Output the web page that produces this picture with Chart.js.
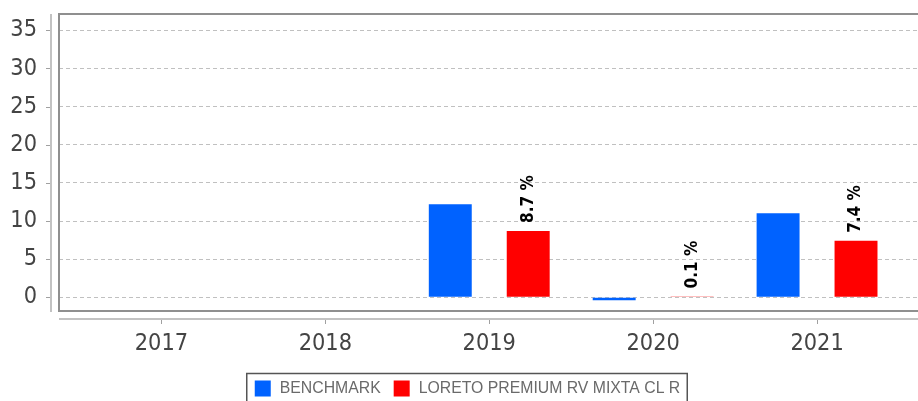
<!DOCTYPE html>
<html>
<head>
<meta charset="utf-8">
<script src="https://cdn.jsdelivr.net/npm/chart.js@4"></script>
<style>
  html, body { margin: 0; padding: 0; overflow: hidden; background: #fff; }
</style>
</head>
<body>
<canvas id="chart" width="935" height="401"></canvas>
<script>
// -- THE DATA --
const years = ['2017', '2018', '2019', '2020', '2021'];
const benchmark = [null, null, 12.2, -0.4, 11.0];
const fund = [null, null, 8.7, 0.1, 7.4];
const seriesNames = ['BENCHMARK', 'LORETO PREMIUM RV MIXTA CL R'];
const seriesColors = ['#0062ff', '#ff0000'];

const tickFont = "'DejaVu Sans Condensed', 'DejaVu Sans', sans-serif";

// frame, offset axis lines and tick marks (java-chart look)
const axesPlugin = {
  id: 'axes',
  afterDraw(chart) {
    const ctx = chart.ctx, a = chart.chartArea;
    const x = chart.scales.x, y = chart.scales.y;
    ctx.save();
    // plot frame
    ctx.strokeStyle = '#8f8f8f';
    ctx.lineWidth = 2;
    ctx.strokeRect(a.left, a.top, a.right - a.left, a.bottom - a.top);
    // y axis line
    ctx.strokeStyle = '#c2c2c2';
    ctx.beginPath();
    ctx.moveTo(51, a.top);
    ctx.lineTo(51, a.bottom + 1);
    ctx.stroke();
    // x axis line
    ctx.beginPath();
    ctx.moveTo(a.left, a.bottom + 8);
    ctx.lineTo(a.right, a.bottom + 8);
    ctx.stroke();
    // tick marks
    ctx.strokeStyle = '#a0a0a0';
    ctx.lineWidth = 1;
    ctx.beginPath();
    y.ticks.forEach(t => {
      const py = Math.round(y.getPixelForValue(t.value)) + 0.5;
      ctx.moveTo(46, py);
      ctx.lineTo(50, py);
    });
    x.ticks.forEach(t => {
      const px = Math.round(x.getPixelForValue(t.value)) + 0.5;
      ctx.moveTo(px, a.bottom + 9);
      ctx.lineTo(px, a.bottom + 13);
    });
    ctx.stroke();
    ctx.restore();
  }
};

// rotated value labels above the fund bars
const labelPlugin = {
  id: 'valueLabels',
  afterDatasetsDraw(chart) {
    const ctx = chart.ctx;
    const meta = chart.getDatasetMeta(1);
    ctx.save();
    ctx.fillStyle = '#000';
    ctx.font = "bold 17px " + tickFont;
    ctx.textAlign = 'left';
    ctx.textBaseline = 'middle';
    meta.data.forEach((bar, i) => {
      const v = fund[i];
      if (v === null) return;
      ctx.save();
      ctx.translate(bar.x, Math.min(bar.y, bar.base) - 8);
      ctx.rotate(-Math.PI / 2);
      ctx.fillText(v.toFixed(1) + ' %', 0, 0);
      ctx.restore();
    });
    ctx.restore();
  }
};

// boxed legend at the bottom
const legendPlugin = {
  id: 'boxLegend',
  afterDraw(chart) {
    const ctx = chart.ctx;
    const sw = 16, gap = 9, spacing = 13, cy = 388.5;
    ctx.save();
    ctx.font = "15.8px 'Liberation Sans', Arial, sans-serif";
    const widths = seriesNames.map(n => ctx.measureText(n).width);
    const total = widths.reduce((s, w) => s + sw + gap + w, 0) + spacing;
    let px = (chart.width - total) / 2;
    ctx.strokeStyle = '#555';
    ctx.lineWidth = 1.5;
    ctx.strokeRect(px - 8, 373.5, total + 15, 40);
    ctx.textBaseline = 'middle';
    seriesNames.forEach((n, i) => {
      ctx.fillStyle = seriesColors[i];
      ctx.fillRect(px, cy - sw / 2, sw, sw);
      ctx.fillStyle = '#6a6a6a';
      ctx.fillText(n, px + sw + gap, cy);
      px += sw + gap + widths[i] + spacing;
    });
    ctx.restore();
  }
};

function draw() {
  const ctx = document.getElementById('chart').getContext('2d');
  new Chart(ctx, {
    type: 'bar',
    data: {
      datasets: [
        {
          label: seriesNames[0],
          data: benchmark.map((v, i) => ({ x: i, y: v })),
          backgroundColor: seriesColors[0],
          borderWidth: 0
        },
        {
          label: seriesNames[1],
          data: fund.map((v, i) => ({ x: i, y: v })),
          backgroundColor: seriesColors[1],
          borderWidth: 0
        }
      ]
    },
    options: {
      responsive: false,
      animation: false,
      categoryPercentage: 0.951,
      barPercentage: 0.551,
      layout: { padding: { left: 0, top: 14, right: 16, bottom: 40 } },
      plugins: {
        legend: { display: false },
        tooltip: { enabled: false }
      },
      scales: {
        x: {
          type: 'linear',
          offset: false,
          min: -0.625,
          max: 4.622,
          grid: { display: false, offset: false },
          border: { display: false },
          ticks: {
            stepSize: 1,
            includeBounds: false,
            autoSkip: false,
            maxRotation: 0,
            padding: 11,
            color: '#444',
            font: { family: tickFont, size: 23.3 },
            callback: v => years[v] ?? ''
          },
          afterFit: s => { s.height = 50; s.paddingLeft = 0; s.paddingRight = 0; }
        },
        y: {
          min: -1.8,
          max: 37.14,
          grid: { color: '#c0c0c0', lineWidth: 1, drawTicks: false },
          border: { display: false, dash: [4, 3] },
          ticks: {
            stepSize: 5,
            includeBounds: false,
            padding: 22,
            color: '#444',
            font: { family: tickFont, size: 23.3 }
          },
          afterFit: s => { s.width = 59; s.paddingTop = 0; s.paddingBottom = 0; }
        }
      }
    },
    plugins: [axesPlugin, labelPlugin, legendPlugin]
  });
}

draw();
</script>
</body>
</html>
